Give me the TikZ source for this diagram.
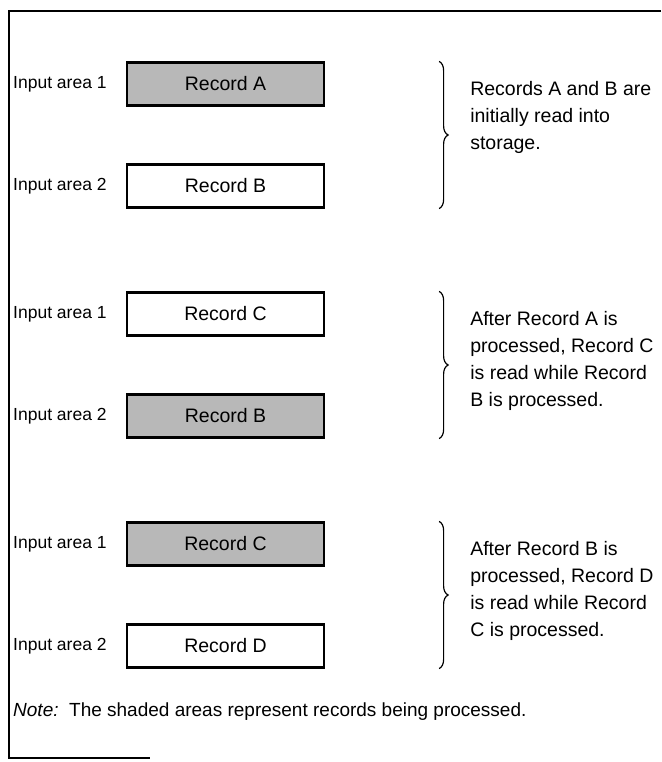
\documentclass[tikz,border=0pt]{standalone}
\usepackage{fontspec}
\setmainfont{Liberation Sans}
\usetikzlibrary{positioning,calc,decorations.pathreplacing}

\begin{document}
\begin{tikzpicture}[x=1pt,y=-1pt,
    every node/.style={font=\fontsize{19.5}{27}\selectfont},
    rec/.style={rectangle,draw=black,line width=2.2pt,minimum width=197pt,
                minimum height=43pt,inner sep=0pt},
    busy/.style={rec,fill=black!28},
    area/.style={anchor=west,inner sep=0pt,font=\fontsize{17.5}{22}\selectfont},
    remark/.style={anchor=north west,align=left,inner sep=0pt},
    curly/.style={decorate,decoration={brace,amplitude=9pt},line width=1.2pt},
    frame/.style={line width=1.8pt},
  ]
  \useasboundingbox (0,0) rectangle (661,762);

  % Frame
  \draw[frame] (661,11) -- (9,11) -- (9,758) -- (150,758);

  % Group 1
  \node[busy] (recA1) at (225.5,84) {Record A};
  \node[rec] (recB1) at (225.5,186) {Record B};
  \node[area] (inA1) at (13,84) {Input area 1};
  \node[area] (inB1) at (13,186) {Input area 2};
  \draw[curly] ($(recA1.north east)+(114,0)$) -- ($(recB1.south east)+(114,0)$);
  \node[remark] (txt1) at ($(recA1.north east)+(145,20)$)
    {Records A and B are\\initially read into\\storage.};

  % Group 2
  \node[rec] (recC2) at (225.5,314) {Record C};
  \node[busy] (recB2) at (225.5,416) {Record B};
  \node[area] (inA2) at (13,314) {Input area 1};
  \node[area] (inB2) at (13,416) {Input area 2};
  \draw[curly] ($(recC2.north east)+(114,0)$) -- ($(recB2.south east)+(114,0)$);
  \node[remark] (txt2) at ($(recC2.north east)+(145,20)$)
    {After Record A is\\processed, Record C\\is read while Record\\B is processed.};

  % Group 3
  \node[busy] (recC3) at (225.5,544) {Record C};
  \node[rec] (recD3) at (225.5,646) {Record D};
  \node[area] (inA3) at (13,544) {Input area 1};
  \node[area] (inB3) at (13,646) {Input area 2};
  \draw[curly] ($(recC3.north east)+(114,0)$) -- ($(recD3.south east)+(114,0)$);
  \node[remark] (txt3) at ($(recC3.north east)+(145,20)$)
    {After Record B is\\processed, Record D\\is read while Record\\C is processed.};

  % Note
  \node[area,font=\fontsize{19}{24}\selectfont] (note) at (13,712)
    {\textit{Note:}\ \ The shaded areas represent records being processed.};

\end{tikzpicture}
\end{document}
